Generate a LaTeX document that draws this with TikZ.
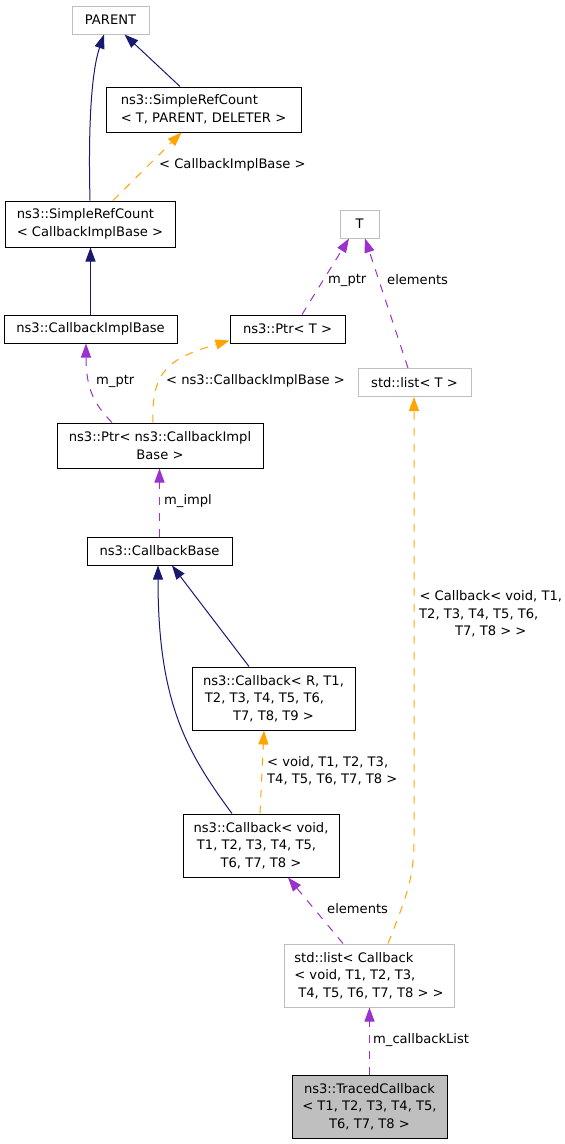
\documentclass[tikz,border=0pt]{standalone}
\usepackage{fontspec}
\setmainfont{DejaVu Sans}
\usetikzlibrary{arrows.meta}
\definecolor{navy}{HTML}{191970}
\definecolor{tmplorange}{HTML}{FFA500}
\definecolor{usepurple}{HTML}{9A32CD}
\definecolor{lgray}{HTML}{BFBFBF}
\tikzset{
  txt/.style={font=\fontsize{13.1}{17.5}\selectfont},
  box/.style={txt, draw=black, line width=1pt, inner sep=0pt, fill=white},
  gbox/.style={box, draw=lgray},
  lbl/.style={txt, inner sep=0pt, anchor=west},
  tipstyle/.style={-{Triangle[length=14pt,width=10pt]}},
  inh/.style={draw=navy, line width=1pt, tipstyle, fill=none},
  tmpl/.style={draw=tmplorange, line width=1pt, dash pattern=on 8pt off 8pt, tipstyle},
  use/.style={draw=usepurple, line width=1pt, dash pattern=on 8pt off 8pt, tipstyle},
}
\begin{document}
\begin{tikzpicture}[x=1pt,y=-1pt]
\useasboundingbox[fill=white] (0,0) rectangle (565,1144);
% nodes
\node[gbox, minimum width=77pt, minimum height=28pt] (parent) at (110.5,20) {PARENT};
\node[box, minimum width=195pt, minimum height=45pt, align=left] (srctpd) at (203.5,109.5) {ns3::SimpleRefCount\\< T, PARENT, DELETER >};
\node[box, minimum width=170pt, minimum height=46pt, align=left] (srccib) at (90,224) {ns3::SimpleRefCount\\< CallbackImplBase >};
\node[box, minimum width=173pt, minimum height=28pt] (cib) at (90.5,329) {ns3::CallbackImplBase};
\node[box, minimum width=115pt, minimum height=28pt] (ptrT) at (287.5,329) {ns3::Ptr< T >};
\node[gbox, minimum width=39pt, minimum height=28pt] (T) at (359.5,224) {T};
\node[gbox, minimum width=113pt, minimum height=28pt] (listT) at (414.5,382.5) {std::list< T >};
\node[box, minimum width=206pt, minimum height=45pt, align=center] (ptrcib) at (160,445.5) {ns3::Ptr< ns3::CallbackImpl\\Base >};
\node[box, minimum width=145pt, minimum height=28pt] (cb) at (159.5,551) {ns3::CallbackBase};
\node[box, minimum width=163pt, minimum height=63pt, align=center] (cbR) at (273.5,698.5) {ns3::Callback< R, T1,\\T2, T3, T4, T5, T6,\hbox to 18pt{}\\T7, T8, T9 >};
\node[box, minimum width=156pt, minimum height=63pt, align=center] (cbV) at (261,845.5) {ns3::Callback< void,\\T1, T2, T3, T4, T5,\hbox to 9pt{}\\T6, T7, T8 >};
\node[gbox, minimum width=170pt, minimum height=63pt, align=left] (listcb) at (369,975.5) {std::list< Callback\\< void, T1, T2, T3,\\\hbox to 4pt{}T4, T5, T6, T7, T8 > >};
\node[box, fill=lgray, minimum width=155pt, minimum height=63pt, align=center] (traced) at (369.5,1106.5) {ns3::TracedCallback\\< T1, T2, T3, T4, T5,\\T6, T7, T8 >};
% labels
\node[lbl] (l1) at (159,165) {< CallbackImplBase >};
\node[lbl] (l2) at (328,280) {m\_ptr};
\node[lbl] (l3) at (387,280) {elements};
\node[lbl] (l4) at (96,381) {m\_ptr};
\node[lbl] (l5) at (166,381) {< ns3::CallbackImplBase >};
\node[lbl] (l6) at (164,501) {m\_impl};
\node[lbl, align=left] (l7) at (267,771) {< void, T1, T2, T3,\\T4, T5, T6, T7, T8 >};
\node[lbl, align=center] (l8) at (419,614) {< Callback< void, T1,\\T2, T3, T4, T5, T6,\hbox to 24pt{}\\T7, T8 > >};
\node[lbl] (l9) at (327,909) {elements};
\node[lbl] (l10) at (373,1040) {m\_callbackList};
% edges
\draw[inh] (srccib.north) .. controls (88,120) and (92,70) .. ([xshift=-6.5]parent.south);
\draw[inh] ([xshift=-23.5]srctpd.north) -- ([xshift=14]parent.south);
\draw[tmpl] ([xshift=23]srccib.north) -- ([xshift=-22]srctpd.south);
\draw[inh] (cib.north) -- (cib.north |- srccib.south);
\draw[use] ([xshift=14.5]ptrT.north) -- ([xshift=-10.5]T.south);
\draw[use] ([xshift=-6.5]listT.north) -- ([xshift=5.5]T.south);
\draw[use] ([xshift=-48]ptrcib.north) .. controls (95,405) and (86,390) .. ([xshift=-4.5]cib.south);
\draw[tmpl] ([xshift=-7]ptrcib.north) .. controls (151,370) and (170,358) .. ([yshift=3]ptrT.south west);
\draw[use] (cb.north) -- (cb.north |- ptrcib.south);
\draw[inh] ([xshift=-24.5]cbR.north) -- ([xshift=12.5]cb.south);
\draw[inh] ([xshift=-29]cbV.north) .. controls (185,750) and (158,700) .. ([xshift=-1.5]cb.south);
\draw[tmpl] ([xshift=-1]cbV.north) -- ([xshift=-9.5]cbR.south);
\draw[use] ([xshift=-26]listcb.north) -- ([xshift=27]cbV.south);
\draw[tmpl] ([xshift=19]listcb.north) .. controls (405,900) and (414,880) .. (414,840) -- ([xshift=-0.5]listT.south);
\draw[use] (traced.north) -- (traced.north |- listcb.south);
\end{tikzpicture}
\end{document}
